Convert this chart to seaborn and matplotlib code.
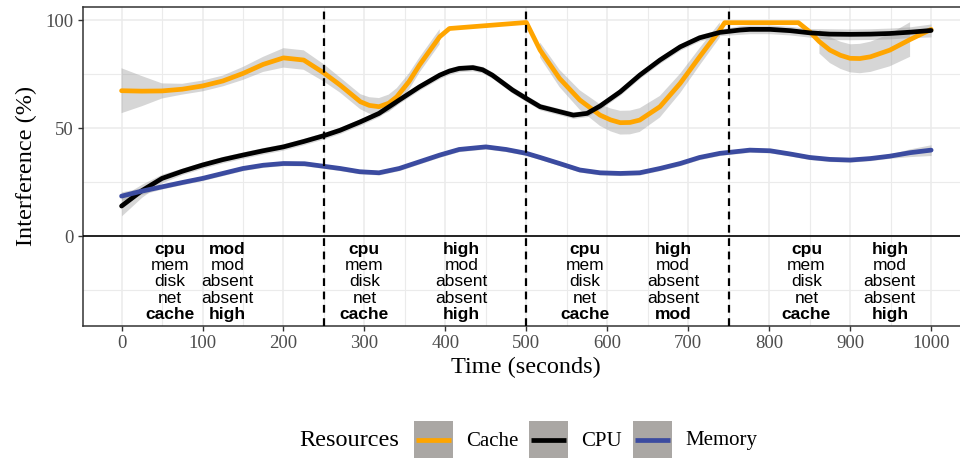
import matplotlib.pyplot as plt
import numpy as np
import pandas as pd
import seaborn as sns
from matplotlib.lines import Line2D
from matplotlib.patches import Rectangle
from matplotlib.ticker import MultipleLocator

# smoothed interference curves (seconds, %)
cache_time = [0, 25, 50, 75, 100, 125, 150, 175, 200, 225, 250, 270, 295, 306, 318, 330, 340,
              355, 368, 393, 405, 500, 517, 541, 566, 591, 604, 616, 628, 640, 665, 690, 714,
              739, 745, 836, 850, 862, 875, 888, 900, 912, 925, 949, 974, 1000]
cache_value = [67.3, 67.1, 67.2, 68.0, 69.5, 71.8, 75.3, 79.5, 82.5, 81.5, 75.5, 69.9, 62.2,
               60.5, 59.9, 61.5, 64.5, 71.5, 79.2, 92.3, 96.1, 98.9, 86.1, 73.0, 63.0, 56.0,
               53.8, 52.5, 52.6, 53.7, 59.9, 70.7, 83.0, 95.4, 98.8, 98.8, 94.6, 90.0, 86.1,
               83.7, 82.3, 82.2, 83.0, 86.1, 91.0, 95.7]
cache_se = [10.4, 7, 3.5, 2.5, 2.5, 2.5, 3, 3.5, 4.5, 4.5, 4, 3.5, 3.5, 3.8, 4, 4, 4,
            3.8, 3.5, 3.5, np.nan, np.nan, 3.5, 4, 4.5, 5, 5.3, 5.5, 5.5, 5.5, 5, 4.5, 4,
            3.5, np.nan, np.nan, np.nan, 5.5, 6, 6.3, 6.5, 6.8, 7, 7.5, 8, np.nan]

cpu_time = [0, 25, 50, 75, 100, 125, 150, 175, 200, 225, 250, 270, 295, 318, 343, 368, 393,
            405, 417, 434, 446, 458, 470, 483, 500, 517, 541, 558, 575, 591, 616, 640, 665,
            690, 714, 739, 764, 776, 801, 826, 850, 875, 900, 925, 949, 974, 1000]
cpu_value = [13.9, 21.0, 26.7, 30.0, 32.9, 35.4, 37.5, 39.5, 41.3, 43.8, 46.5, 49.0, 52.9,
             56.8, 63.0, 69.1, 74.5, 76.4, 77.6, 78.0, 77.0, 74.5, 71.2, 67.6, 63.7, 59.9,
             57.6, 56.0, 56.8, 60.2, 66.8, 74.5, 81.5, 87.6, 91.8, 94.3, 95.4, 95.7, 95.7,
             95.1, 94.1, 93.5, 93.4, 93.5, 93.8, 94.4, 95.2]
cpu_se = [4.5, 3, 2, 1.5, 1.5, 1.5, 1.5, 1.5, 1.5, 1.5, 1.5, 1.5, 1.5, 1.5, 1.5, 1.5, 1.5,
          1.5, 1.5, 1.5, 1.5, 1.5, 1.5, 1.5, 1.5, 1.5, 1.5, 1.5, 1.5, 1.5, 1.5, 1.5, 1.5,
          1.5, 1.5, 1.5, 2, 2, 2, 2, 2, 2.5, 2.5, 2.5, 2.5, 2.5, 3]

mem_time = [0, 25, 50, 75, 100, 125, 150, 175, 200, 226, 250, 270, 294, 318, 343, 368, 393,
            417, 450, 475, 500, 517, 541, 566, 591, 616, 640, 665, 690, 714, 739, 764, 776,
            801, 826, 850, 875, 900, 925, 949, 974, 1000]
mem_value = [18.5, 20.8, 22.8, 24.8, 26.7, 29.0, 31.3, 32.8, 33.6, 33.5, 32.3, 31.3, 29.8,
             29.3, 31.3, 34.4, 37.5, 40.1, 41.3, 40.1, 38.3, 36.4, 33.6, 30.6, 29.3, 29.0,
             29.3, 31.3, 33.6, 36.4, 38.3, 39.3, 39.8, 39.5, 38.0, 36.4, 35.5, 35.2, 35.9,
             37.0, 38.6, 39.8]
mem_se = [2, 1.5] + [1] * 38 + [1.8, 2.5]

# workload annotations per phase
label_x = [60, 300, 572, 846]
value_x = [131, 420, 681, 949]
row_names = ["cpu", "mem", "disk", "net", "cache"]
phase_values = [
    ["mod", "mod", "absent", "absent", "high"],
    ["high", "mod", "absent", "absent", "high"],
    ["high", "mod", "absent", "absent", "mod"],
    ["high", "mod", "absent", "absent", "high"],
]
row_y = [-8.3, -15.8, -23.3, -30.8, -38.3]
phase_breaks = [250, 500, 750]

resources = ["Cache", "CPU", "Memory"]
colors = {"Cache": "#FFA500", "CPU": "#000000", "Memory": "#3B4BA0"}


def build_frame():
    parts = []
    for name, t, v, s in [("Cache", cache_time, cache_value, cache_se),
                          ("CPU", cpu_time, cpu_value, cpu_se),
                          ("Memory", mem_time, mem_value, mem_se)]:
        parts.append(pd.DataFrame({"time": t, "value": v, "se": s, "resource": name}))
    return pd.concat(parts, ignore_index=True)


df = build_frame()

sns.set_theme(style="white")
plt.rcParams["font.family"] = ["Liberation Serif", "DejaVu Serif"]
plt.rcParams["text.color"] = "black"
plt.rcParams["axes.labelcolor"] = "black"

W, H = 960, 458
fig = plt.figure(figsize=(W / 100, H / 100), dpi=100)
ax = fig.add_axes([82.7 / W, 1 - 325.7 / H, (970 - 82.7) / W, 319 / H])

for name in resources:
    d = df[df["resource"] == name]
    ax.fill_between(d["time"], d["value"] - d["se"], d["value"] + d["se"],
                    color="#999999", alpha=0.4, linewidth=0, zorder=2)

sns.lineplot(data=df, x="time", y="value", hue="resource", hue_order=resources,
             palette=colors, estimator=None, linewidth=3.4, legend=False, ax=ax,
             zorder=3, solid_joinstyle="round")

ax.axhline(0, color="black", lw=1.2, zorder=4)
for b in phase_breaks:
    ax.axvline(b, color="black", lw=1.6, linestyle=(0, (3.5, 2.5)), zorder=5)

for i in range(len(label_x)):
    for r in range(len(row_names)):
        w = "bold" if r in (0, 4) else "normal"
        ax.text(label_x[i], row_y[r], row_names[r], ha="center", va="baseline",
                fontsize=12.5, family="Liberation Sans", fontweight=w, zorder=6)
        ax.text(value_x[i], row_y[r], phase_values[i][r], ha="center", va="baseline",
                fontsize=12.5, family="Liberation Sans", fontweight=w, zorder=6)

ax.set_xlim(-48, 1048)
ax.set_ylim(-41.5, 106.2)
ax.xaxis.set_major_locator(MultipleLocator(100))
ax.xaxis.set_minor_locator(MultipleLocator(50))
ax.set_yticks([0, 50, 100])
ax.yaxis.set_minor_locator(MultipleLocator(25))
ax.grid(which="major", color="#ebebeb", lw=1.1)
ax.grid(which="minor", color="#ebebeb", lw=0.8)
ax.set_axisbelow(True)
ax.tick_params(which="major", length=3.5, width=1, color="#333333",
               labelsize=13.5, labelcolor="#4d4d4d", pad=3, bottom=True, left=True)
ax.tick_params(which="minor", length=0)
for sp in ax.spines.values():
    sp.set_color("#333333")
    sp.set_linewidth(1.1)

ax.set_xlabel("Time (seconds)", fontsize=17.5, labelpad=4)
ax.set_ylabel("Interference (%)", fontsize=17.5, labelpad=6)

# legend at the bottom, title on the left, keys drawn in figure pixels
fig.text(299 / W, 1 - 441 / H, "Resources", fontsize=17.5, ha="left", va="center")
key_left = [414, 529, 633]
for n, kx in zip(resources, key_left):
    fig.patches.append(Rectangle((kx / W, 1 - 458 / H), 39 / W, 37 / H,
                                 transform=fig.transFigure, facecolor="#aaa7a4",
                                 edgecolor="none"))
    fig.lines.append(Line2D([(kx + 2) / W, (kx + 37) / W], [1 - 439.5 / H] * 2,
                            transform=fig.transFigure, color=colors[n], lw=3.4,
                            solid_capstyle="butt"))
    fig.text((kx + 52) / W, 1 - 441 / H, n, fontsize=15, ha="left", va="center")

plt.savefig("out.png", dpi=100)
